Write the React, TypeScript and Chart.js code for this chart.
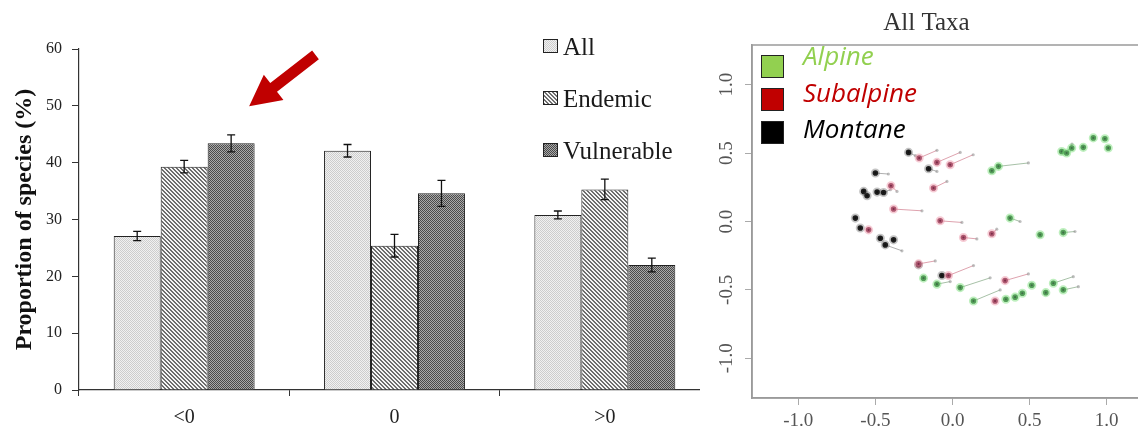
import React, { useEffect, useRef } from 'react';
import { Chart, registerables } from 'chart.js';

Chart.register(...registerables);

// ---------- Left panel: bar chart data ----------
const categories = ['<0', '0', '>0'];
const seriesLabels = ['All', 'Endemic', 'Vulnerable'];
const allValues = [27.1, 42.1, 30.8];
const allErrors = [0.8, 1.1, 0.7];
const endemicValues = [39.3, 25.4, 35.3];
const endemicErrors = [1.1, 2.0, 1.8];
const vulnerableValues = [43.4, 34.6, 22.0];
const vulnerableErrors = [1.5, 2.3, 1.2];
const yAxisTitle = 'Proportion of species (%)';

// ---------- Right panel: ordination data ----------
const scatterTitle = 'All Taxa';
const zoneLabels = ['Alpine', 'Subalpine', 'Montane'];
// each arrow: [x start, y start, x end, y end]
const alpineArrows = [
  [0.255, 0.371, 0.255, 0.371],
  [0.298, 0.403, 0.492, 0.428],
  [0.708, 0.512, 0.708, 0.512],
  [0.740, 0.501, 0.775, 0.565],
  [0.773, 0.537, 0.773, 0.537],
  [0.848, 0.542, 0.848, 0.542],
  [0.913, 0.611, 0.913, 0.611],
  [0.988, 0.605, 0.988, 0.605],
  [1.010, 0.537, 1.010, 0.537],
  [0.373, 0.025, 0.438, 0.000],
  [0.568, -0.097, 0.568, -0.097],
  [0.718, -0.081, 0.794, -0.073],
  [-0.188, -0.414, -0.188, -0.414],
  [-0.101, -0.458, -0.015, -0.439],
  [0.050, -0.483, 0.244, -0.412],
  [0.136, -0.581, 0.309, -0.500],
  [0.346, -0.568, 0.346, -0.568],
  [0.406, -0.553, 0.406, -0.553],
  [0.453, -0.524, 0.453, -0.524],
  [0.514, -0.466, 0.514, -0.466],
  [0.605, -0.520, 0.605, -0.520],
  [0.654, -0.451, 0.783, -0.403],
  [0.718, -0.500, 0.816, -0.476],
];
const subalpineArrows = [
  [-0.216, 0.464, -0.101, 0.520],
  [-0.101, 0.432, 0.050, 0.505],
  [-0.015, 0.415, 0.134, 0.488],
  [-0.399, 0.261, -0.360, 0.220],
  [-0.123, 0.245, -0.036, 0.293],
  [-0.382, 0.091, -0.198, 0.078],
  [-0.080, 0.005, 0.061, -0.007],
  [-0.544, -0.061, -0.544, -0.061],
  [0.071, -0.117, 0.158, -0.127],
  [0.255, -0.090, 0.287, -0.056],
  [-0.220, -0.310, -0.112, -0.288],
  [-0.026, -0.395, 0.136, -0.322],
  [0.341, -0.432, 0.492, -0.383],
  [0.276, -0.581, 0.276, -0.581],
];
const montaneArrows = [
  [-0.285, 0.505, -0.241, 0.481],
  [-0.155, 0.386, -0.101, 0.366],
  [-0.500, 0.354, -0.416, 0.347],
  [-0.576, 0.220, -0.576, 0.220],
  [-0.554, 0.188, -0.554, 0.188],
  [-0.489, 0.215, -0.489, 0.215],
  [-0.447, 0.212, -0.403, 0.232],
  [-0.630, 0.025, -0.630, 0.025],
  [-0.598, -0.048, -0.598, -0.048],
  [-0.468, -0.122, -0.468, -0.122],
  [-0.436, -0.171, -0.328, -0.214],
  [-0.382, -0.134, -0.382, -0.134],
  [-0.220, -0.317, -0.220, -0.317],
  [-0.069, -0.395, -0.069, -0.395],
];

// ---------- styles ----------
const SERIF = '"Liberation Serif", "Times New Roman", serif';
const zoneColors = ['#92d050', '#c00000', '#000000'];
const dotFill = ['#3f6e47', '#7b2c48', '#111111'];
const dotHalo = ['rgba(110,220,110,0.45)', 'rgba(235,140,160,0.45)', 'rgba(60,60,60,0.3)'];
const shiftLine = ['rgba(120,160,120,0.65)', 'rgba(200,100,120,0.6)', 'rgba(110,110,110,0.55)'];

function makePattern(kind: string): CanvasPattern | string {
  const c = document.createElement('canvas');
  c.width = 4;
  c.height = 4;
  const g = c.getContext('2d');
  if (!g) return '#ccc';
  for (let y = 0; y < 4; y++) {
    for (let x = 0; x < 4; x++) {
      let col = '#ffffff';
      if (kind === 'dots') col = (x + y) % 2 === 0 ? '#cdcdcd' : '#f1f1f1';
      if (kind === 'stripes') col = (((x - y) % 4) + 4) % 4 < 2 ? '#6e6e6e' : '#f6f6f6';
      if (kind === 'check') col = (x + y) % 2 === 0 ? '#4a4a4a' : '#a9a9a9';
      g.fillStyle = col;
      g.fillRect(x, y, 1, 1);
    }
  }
  return g.createPattern(c, 'repeat') || '#ccc';
}

const errorSets = [allErrors, endemicErrors, vulnerableErrors];

const errorBarPlugin = {
  id: 'errorBars',
  afterDatasetsDraw(chart: any) {
    const ctx = chart.ctx;
    const ys = chart.scales.y;
    chart.data.datasets.forEach((ds: any, i: number) => {
      const meta = chart.getDatasetMeta(i);
      meta.data.forEach((bar: any, j: number) => {
        const v = ds.data[j];
        const e = errorSets[i][j];
        const yt = ys.getPixelForValue(v + e);
        const yb = ys.getPixelForValue(v - e);
        ctx.save();
        ctx.strokeStyle = '#111';
        ctx.lineWidth = 1.3;
        ctx.beginPath();
        ctx.moveTo(bar.x, yt);
        ctx.lineTo(bar.x, yb);
        ctx.moveTo(bar.x - 4, yt);
        ctx.lineTo(bar.x + 4, yt);
        ctx.moveTo(bar.x - 4, yb);
        ctx.lineTo(bar.x + 4, yb);
        ctx.stroke();
        ctx.restore();
      });
    });
  },
};

const barLegendPlugin = {
  id: 'barLegend',
  afterDraw(chart: any) {
    const ctx = chart.ctx;
    const x0 = 543;
    const rows = [46, 98, 150];
    ctx.save();
    chart.data.datasets.forEach((ds: any, i: number) => {
      const cy = rows[i];
      ctx.fillStyle = ds.backgroundColor;
      ctx.fillRect(x0, cy - 7, 15, 14);
      ctx.strokeStyle = '#222';
      ctx.lineWidth = 1;
      ctx.strokeRect(x0 + 0.5, cy - 6.5, 14, 13);
      ctx.fillStyle = '#1a1a1a';
      ctx.font = `25px ${SERIF}`;
      ctx.textAlign = 'left';
      ctx.textBaseline = 'alphabetic';
      ctx.fillText(ds.label, x0 + 20, cy + 8.5);
    });
    ctx.restore();
  },
};

const arrowPlugin = {
  id: 'redArrow',
  afterDraw(chart: any) {
    const meta = chart.getDatasetMeta(2);
    const bar = meta.data[0];
    if (!bar) return;
    const ctx = chart.ctx;
    const T = { x: bar.x + 18, y: bar.y - 37 };
    const u = { x: -0.79, y: 0.613 };
    const n = { x: 0.613, y: 0.79 };
    const H = { x: T.x - u.x * 31, y: T.y - u.y * 31 };
    const C = { x: T.x - u.x * 84, y: T.y - u.y * 84 };
    const hw = 16;
    const sw = 5.5;
    ctx.save();
    ctx.fillStyle = '#c00000';
    ctx.beginPath();
    ctx.moveTo(T.x, T.y);
    ctx.lineTo(H.x + n.x * hw, H.y + n.y * hw);
    ctx.lineTo(H.x + n.x * sw, H.y + n.y * sw);
    ctx.lineTo(C.x + n.x * sw, C.y + n.y * sw);
    ctx.lineTo(C.x - n.x * sw, C.y - n.y * sw);
    ctx.lineTo(H.x - n.x * sw, H.y - n.y * sw);
    ctx.lineTo(H.x - n.x * hw, H.y - n.y * hw);
    ctx.closePath();
    ctx.fill();
    ctx.restore();
  },
};

const frameLegendPlugin = {
  id: 'frameLegend',
  afterDraw(chart: any) {
    const ctx = chart.ctx;
    const a = chart.chartArea;
    ctx.save();
    ctx.strokeStyle = '#9a9a9a';
    ctx.lineWidth = 1.5;
    ctx.strokeRect(a.left, a.top, a.right - a.left, a.bottom - a.top);
    const boxTops = [10, 43, 76];
    const baselines = [20, 56.5, 93];
    for (let i = 0; i < 3; i++) {
      const bx = a.left + 9;
      const by = a.top + boxTops[i];
      ctx.fillStyle = zoneColors[i];
      ctx.fillRect(bx, by, 23, 23);
      ctx.strokeStyle = '#222';
      ctx.lineWidth = 1;
      ctx.strokeRect(bx + 0.5, by + 0.5, 22, 22);
      ctx.fillStyle = zoneColors[i];
      ctx.font = `italic 26px "Open Sans", sans-serif`;
      ctx.textAlign = 'left';
      ctx.textBaseline = 'alphabetic';
      ctx.fillText(chart.data.datasets[i].label, a.left + 51, a.top + baselines[i]);
    }
    ctx.restore();
  },
};

function BarPanel() {
  const ref = useRef<HTMLCanvasElement>(null);
  useEffect(() => {
    if (!ref.current) return;
    const patterns = [makePattern('dots'), makePattern('stripes'), makePattern('check')];
    const values = [allValues, endemicValues, vulnerableValues];
    const chart = new Chart(ref.current, {
      type: 'bar',
      data: {
        labels: categories,
        datasets: seriesLabels.map((label, i) => ({
          label,
          data: values[i],
          backgroundColor: patterns[i] as any,
          borderColor: '#222',
          borderWidth: 1,
          barPercentage: 1,
          categoryPercentage: 0.67,
        })),
      },
      options: {
        responsive: false,
        animation: false,
        events: [],
        layout: { padding: { top: 49, right: 2, bottom: 0, left: 0 } },
        plugins: { legend: { display: false }, tooltip: { enabled: false }, title: { display: false } },
        scales: {
          x: {
            afterFit: (s: any) => { s.height = 40; },
            grid: { offset: true, drawOnChartArea: false, tickLength: 6, color: '#333', lineWidth: 1 },
            border: { color: '#333', width: 1.2 },
            ticks: { font: { family: SERIF, size: 20 }, color: '#222', padding: 10 },
          },
          y: {
            min: 0,
            max: 60,
            afterFit: (s: any) => { s.width = 79; },
            grid: { drawOnChartArea: false, tickLength: 7, color: '#333' },
            border: { color: '#333', width: 1.2 },
            ticks: { stepSize: 10, font: { family: SERIF, size: 16 }, color: '#222', padding: 10 },
            title: {
              display: true,
              text: yAxisTitle,
              font: { family: SERIF, size: 24, weight: 'bold' },
              color: '#111',
              padding: { top: 10, bottom: 0 },
            },
          },
        },
      },
      plugins: [errorBarPlugin, barLegendPlugin, arrowPlugin],
    });
    return () => chart.destroy();
  }, []);
  return (
    <canvas
      ref={ref}
      width={712}
      height={430}
      style={{ position: 'absolute', left: 0, top: 0, width: 712, height: 430 }}
    />
  );
}

function ScatterPanel() {
  const ref = useRef<HTMLCanvasElement>(null);
  useEffect(() => {
    if (!ref.current) return;
    const groups = [alpineArrows, subalpineArrows, montaneArrows];
    const dotSets = groups.map((g, i) => ({
      label: zoneLabels[i],
      data: g.map((a) => ({ x: a[0], y: a[1] })),
      pointRadius: 2.8,
      pointBackgroundColor: dotFill[i],
      pointBorderColor: dotHalo[i],
      pointBorderWidth: 3.5,
      showLine: false,
    }));
    const lineSets = groups.map((g, i) => {
      const pts: any[] = [];
      g.forEach((a) => {
        pts.push({ x: a[0], y: a[1] });
        pts.push({ x: a[2], y: a[3] });
        pts.push({ x: null, y: null });
      });
      return {
        label: zoneLabels[i] + ' shift',
        data: pts,
        showLine: true,
        spanGaps: false,
        borderColor: shiftLine[i],
        borderWidth: 1,
        pointRadius: 1.6,
        pointBackgroundColor: 'rgba(150,150,150,0.6)',
        pointBorderColor: 'rgba(150,150,150,0.6)',
        pointBorderWidth: 0,
      };
    });
    const tickFmt = (v: any) => Number(v).toFixed(1);
    const chart = new Chart(ref.current, {
      type: 'scatter',
      data: { datasets: [...dotSets, ...lineSets] as any },
      options: {
        responsive: false,
        animation: false,
        events: [],
        layout: { padding: { top: 0, right: 73, bottom: 0, left: 0 } },
        plugins: {
          legend: { display: false },
          tooltip: { enabled: false },
          title: {
            display: true,
            text: scatterTitle,
            font: { family: SERIF, size: 25, weight: 'normal' },
            color: '#333',
            padding: { top: 8, bottom: 7 },
          },
        },
        scales: {
          x: {
            type: 'linear',
            min: -1.3,
            max: 1.3,
            afterFit: (s: any) => { s.height = 32; },
            grid: { drawOnChartArea: false, tickLength: 7, color: '#aaa' },
            border: { color: '#9a9a9a', width: 1.5 },
            ticks: { stepSize: 0.5, includeBounds: false, callback: tickFmt, font: { family: SERIF, size: 19 }, color: '#555', padding: 5 },
          },
          y: {
            type: 'linear',
            min: -1.29,
            max: 1.29,
            afterFit: (s: any) => { s.width = 52; },
            grid: { drawOnChartArea: false, tickLength: 7, color: '#aaa' },
            border: { color: '#9a9a9a', width: 1.5 },
            ticks: {
              stepSize: 0.5,
              includeBounds: false,
              callback: tickFmt,
              font: { family: SERIF, size: 19 },
              color: '#555',
              padding: 3,
              minRotation: 90,
              maxRotation: 90,
              crossAlign: 'center',
            },
          },
        },
      },
      plugins: [frameLegendPlugin],
    });
    return () => chart.destroy();
  }, []);
  return (
    <canvas
      ref={ref}
      width={526}
      height={430}
      style={{ position: 'absolute', left: 700, top: 0, width: 526, height: 430, background: '#fff' }}
    />
  );
}

export default function App() {
  useEffect(() => {
    document.body.style.margin = '0';
  }, []);
  return (
    <div style={{ position: 'relative', width: 1138, height: 430, overflow: 'hidden', background: '#fff' }}>
      <BarPanel />
      <ScatterPanel />
    </div>
  );
}
